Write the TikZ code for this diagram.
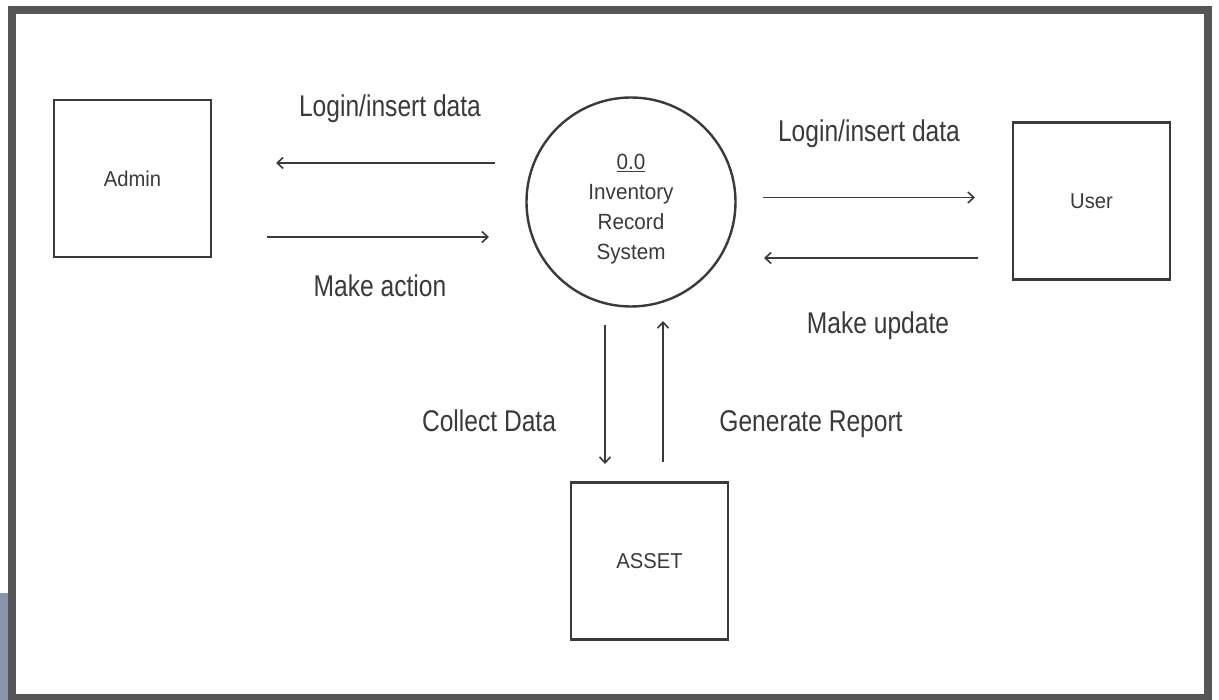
\documentclass[tikz,border=0pt]{standalone}
\usepackage{fontspec}
\setmainfont{Liberation Sans}
\newfontfamily\narrowfont[FakeStretch=0.82]{Liberation Sans}
\newfontfamily\boxfont[FakeStretch=0.94]{Liberation Sans}
\usetikzlibrary{arrows.meta}
\definecolor{ink}{HTML}{3A3A3A}
\definecolor{framegray}{HTML}{555555}
\definecolor{edgeblue}{RGB}{140,148,172}
\tikzset{
  entity/.style={draw=ink, line width=2.6pt, minimum width=157pt, minimum height=157pt, inner sep=0pt, text=ink, font=\boxfont\fontsize{21.5}{24}\selectfont},
  process/.style={draw=ink, line width=2.4pt, circle, minimum size=209pt, inner sep=0pt},
  proctext/.style={text=ink, align=center, inner sep=0pt, font=\boxfont\fontsize{22}{30}\selectfont},
  flow/.style={draw=ink, line width=1.8pt, -{Straight Barb[length=6pt,width=11pt,line width=1.6pt]}},
  flowlabel/.style={text=ink, anchor=base, inner sep=0pt, font=\narrowfont\fontsize{30}{34}\selectfont}
}
\begin{document}
\begin{tikzpicture}[x=1pt,y=-1pt]
\useasboundingbox (0,0) rectangle (1219,700);
\fill[white] (0,0) rectangle (1219,700);
\fill[edgeblue] (0,593) rectangle (8,700);
\draw[framegray, line width=8pt] (12,10.5) rectangle (1207.5,698);

\node[entity] (admin) at (132.5,178.5) {\raisebox{-3pt}{Admin}};
\node[entity] (user) at (1091.5,201) {User};
\node[entity] (asset) at (649.5,561) {ASSET};
\node[process] (proc) at (631,202) {};
\node[proctext] (proclabel) at (631,209) {\underline{0.0}\\Inventory\\Record\\System};

\coordinate (a1s) at (495,163); \coordinate (a1e) at (276,163);
\coordinate (a2s) at (267,237); \coordinate (a2e) at (489,237);
\coordinate (a3s) at (763,197.5); \coordinate (a3e) at (975,197.5);
\coordinate (a4s) at (978,258); \coordinate (a4e) at (764,258);
\coordinate (a5s) at (605,325); \coordinate (a5e) at (605,464);
\coordinate (a6s) at (663,462); \coordinate (a6e) at (663,321);

\draw[flow] (a1s) -- (a1e);
\draw[flow] (a2s) -- (a2e);
\draw[flow] (a3s) -- (a3e);
\draw[flow] (a4s) -- (a4e);
\draw[flow] (a5s) -- (a5e);
\draw[flow] (a6s) -- (a6e);

\node[flowlabel] (l1) at (390,117) {Login/insert data};
\node[flowlabel] (l2) at (380,297) {Make action};
\node[flowlabel] (l3) at (869,142) {Login/insert data};
\node[flowlabel] (l4) at (878,334) {Make update};
\node[flowlabel] (l5) at (489,432) {Collect Data};
\node[flowlabel] (l6) at (811,432) {Generate Report};
\end{tikzpicture}
\end{document}
